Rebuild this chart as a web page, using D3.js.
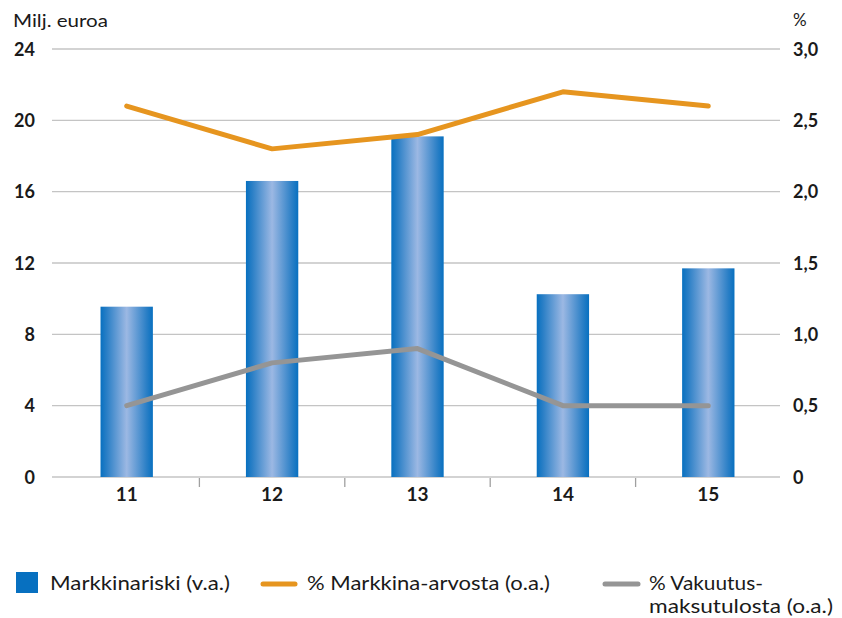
<!DOCTYPE html>
<html><head><meta charset="utf-8">
<script src="https://cdn.jsdelivr.net/npm/d3@7"></script>
<style>body{margin:0;background:#fff}svg{display:block}</style>
</head><body><svg id="c" width="842" height="618"></svg>
<script>
const categories = ["11","12","13","14","15"];
const markkinariski = [9.55, 16.6, 19.1, 10.25, 11.7];
const markkinaArvosta = [2.6, 2.3, 2.4, 2.7, 2.6];
const vakuutusmaksutulosta = [0.5, 0.8, 0.9, 0.5, 0.5];
const leftTicks = [0,4,8,12,16,20,24];
const rightTicks = [0,0.5,1.0,1.5,2.0,2.5,3.0];
const legendLabels = ["Markkinariski (v.a.)", "% Markkina-arvosta (o.a.)", ["% Vakuutus-", "maksutulosta (o.a.)"]];

const svg = d3.select("#c");
const font = "Lato, 'Open Sans', sans-serif";
const x = d3.scaleBand().domain(categories).range([54, 781]).paddingInner(0.64).paddingOuter(0.32);
const yL = d3.scaleLinear().domain([0,24]).range([477,49]);
const yR = d3.scaleLinear().domain([0,3]).range([477,49]);

const defs = svg.append("defs");
const g = defs.append("linearGradient").attr("id","bg").attr("x1","0").attr("x2","1").attr("y1","0").attr("y2","0");
g.append("stop").attr("offset","0").attr("stop-color","#0770c0");
g.append("stop").attr("offset","0.12").attr("stop-color","#2a7fc6");
g.append("stop").attr("offset","0.5").attr("stop-color","#9cb8e3");
g.append("stop").attr("offset","0.88").attr("stop-color","#2a7fc6");
g.append("stop").attr("offset","1").attr("stop-color","#0770c0");

// gridlines
svg.append("g").selectAll("line").data(leftTicks).join("line")
  .attr("x1",52).attr("x2",780).attr("y1",d=>yL(d)).attr("y2",d=>yL(d))
  .attr("stroke","#c4c4c4").attr("stroke-width",1.3);

// x tick marks between categories
const bounds = categories.slice(1).map(c => x(c) - x.step()*x.paddingInner()/2);
svg.append("g").selectAll("line").data(bounds).join("line")
  .attr("x1",d=>d).attr("x2",d=>d).attr("y1",478).attr("y2",487)
  .attr("stroke","#a0a0a0").attr("stroke-width",1.3);

// axis labels
svg.append("g").selectAll("text").data(leftTicks).join("text")
  .attr("x",35).attr("y",d=>yL(d)+6.5).attr("text-anchor","end")
  .attr("font-family",font).attr("font-weight","bold").attr("font-size",18).attr("fill","#1a1a1a")
  .text(d=>d);
svg.append("g").selectAll("text").data(rightTicks).join("text")
  .attr("x",793).attr("y",d=>yR(d)+6.5).attr("text-anchor","start")
  .attr("font-family",font).attr("font-weight","bold").attr("font-size",18).attr("fill","#1a1a1a")
  .text(d=>d===0?"0":d3.format(".1f")(d).replace(".",","));
svg.append("text").attr("x",13).attr("y",27).attr("font-family",font).attr("font-size",18)
  .attr("textLength",95).attr("lengthAdjust","spacingAndGlyphs").attr("fill","#1a1a1a").text("Milj. euroa");
svg.append("text").attr("x",793).attr("y",26).attr("font-family",font).attr("font-size",17).attr("fill","#1a1a1a").text("%");

// x labels
svg.append("g").selectAll("text").data(categories).join("text")
  .attr("x",d=>x(d)+x.bandwidth()/2).attr("y",501).attr("text-anchor","middle")
  .attr("font-family",font).attr("font-weight","bold").attr("font-size",19).attr("fill","#1a1a1a")
  .text(d=>d);

// bars
svg.append("g").selectAll("rect").data(categories).join("rect")
  .attr("x",d=>x(d)).attr("width",x.bandwidth())
  .attr("y",(d,i)=>yL(markkinariski[i])).attr("height",(d,i)=>yL(0)-yL(markkinariski[i]))
  .attr("fill","url(#bg)");

// lines
const line = d3.line().x((d,i)=>x(categories[i])+x.bandwidth()/2).y(d=>yR(d));
svg.append("path").attr("d",line(vakuutusmaksutulosta)).attr("fill","none").attr("stroke","#959595").attr("stroke-width",5).attr("stroke-linecap","round").attr("stroke-linejoin","round");
svg.append("path").attr("d",line(markkinaArvosta)).attr("fill","none").attr("stroke","#e6951f").attr("stroke-width",5).attr("stroke-linecap","round").attr("stroke-linejoin","round");

// legend
const lf = 20;
function ltext(xp, yp, t, len){
  svg.append("text").attr("x",xp).attr("y",yp).attr("font-family",font).attr("font-size",lf)
    .attr("textLength",len).attr("lengthAdjust","spacingAndGlyphs").attr("fill","#1a1a1a").text(t);
}
svg.append("rect").attr("x",16).attr("y",572).attr("width",22).attr("height",21).attr("fill","#0770c0");
ltext(50, 590, legendLabels[0], 180);
svg.append("line").attr("x1",263).attr("x2",295).attr("y1",584).attr("y2",584).attr("stroke","#e6951f").attr("stroke-width",5).attr("stroke-linecap","round");
ltext(307, 590, legendLabels[1], 243);
svg.append("line").attr("x1",605).attr("x2",638).attr("y1",584).attr("y2",584).attr("stroke","#959595").attr("stroke-width",5).attr("stroke-linecap","round");
ltext(649, 590, legendLabels[2][0], 114);
ltext(649, 613, legendLabels[2][1], 184);
</script></body></html>
